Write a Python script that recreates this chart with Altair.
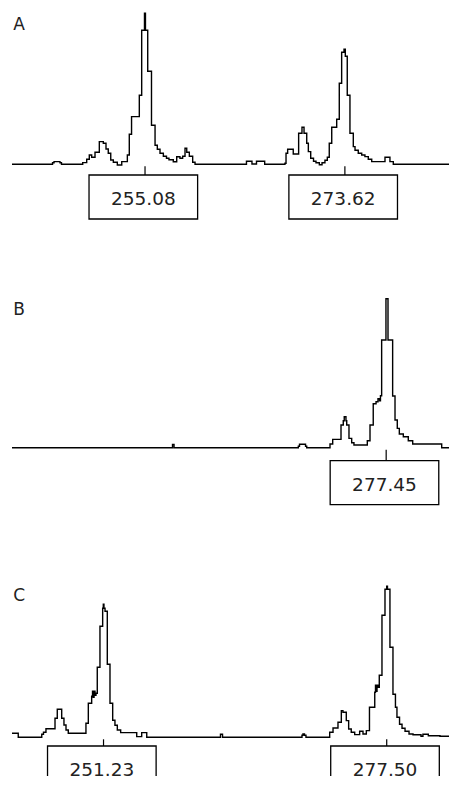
import altair as alt
import pandas as pd

# ---------------- data ----------------
PANELS = ["A", "B", "C"]

a_size = [242.74, 246.36, 246.50, 246.64, 247.05, 247.19, 247.33, 249.30, 249.67, 249.91,
          250.13, 250.44, 250.84, 251.21, 251.46, 251.67, 251.90, 252.14, 252.51, 252.92,
          253.44, 253.62, 253.83, 254.55, 254.77, 255.03, 255.12, 255.33, 255.68, 256.01,
          256.22, 256.47, 256.78, 257.07, 257.30, 257.70, 258.02, 258.32, 258.57, 258.79,
          258.95, 259.19, 259.50, 259.72,
          264.49, 265.00, 265.42, 266.18, 268.06, 268.16, 268.31, 268.83, 269.33, 269.64,
          269.83, 270.08, 270.23, 270.45, 270.71, 270.94, 271.25, 271.50, 271.77, 271.99,
          272.17, 272.40, 272.86, 273.10, 273.32, 273.54, 273.66, 273.84, 274.09, 274.40,
          274.56, 274.86, 275.18, 275.48, 275.79, 276.11, 277.34, 277.80, 278.11, 284.02]
a_signal = [0, 0, 1.5, 2.7, 2.7, 1.5, 0, 1.7, 5, 9.3,
            7, 12, 22.7, 21, 15.3, 11, 4.3, 2, -0.7, 2.7,
            9.3, 30, 47.7, 69, 134, 151, 134, 93, 39, 19,
            15, 11, 8, 6, 4.5, 2.5, 7.5, 6, 8, 16,
            12, 8, 2, 0,
            3, 0.3, 3, 0, 1, 11, 15, 10.3, 31, 37,
            31, 21, 12.7, 6, 3, 1.5, -0.5, 1.5, 4, 7,
            21, 37, 45, 81, 112, 115, 108, 69, 31, 17.7,
            14, 11, 9.3, 7.7, 5, 2.7, 7, 2.7, 0, 0]

b_size = [242.74, 257.44, 257.63, 257.77, 269.30, 269.41, 269.97, 270.08, 272.24, 272.49,
          273.26, 273.47, 273.56, 273.72, 273.79, 274.00, 274.25, 274.46, 275.70, 275.95,
          276.25, 276.51, 276.69, 276.83, 276.92, 277.03, 277.43, 277.62, 278.05, 278.27,
          278.48, 278.67, 279.04, 279.50, 279.91, 282.60, 284.02]
b_signal = [0, 0, 3.3, 0, 1.5, 3.5, 1.5, 0, 3.7, 8.3,
            22.7, 27, 31, 27, 22.7, 9.3, 5, 2.7, 7, 22.7,
            44, 46, 49, 47, 52, 107.7, 149, 107.7, 51.7, 27.7,
            19.3, 13.7, 11, 7, 3.7, 0, 0]

c_size = [242.74, 243.11, 243.32, 245.50, 245.66, 245.89, 246.73, 246.94, 247.35, 247.56,
          247.75, 247.96, 249.60, 249.82, 250.13, 250.21, 250.27, 250.35, 250.44, 250.53,
          250.65, 250.90, 251.15, 251.21, 251.27, 251.37, 251.58, 251.83, 252.08, 252.29,
          252.51, 252.82, 254.31, 254.77, 255.24, 261.90, 262.08, 262.27,
          269.50, 269.64, 269.73, 269.87, 270.01, 272.21, 272.52, 272.98, 273.29, 273.44,
          273.75, 273.97, 274.21, 274.53, 274.99, 275.30, 275.61, 275.90, 276.39, 276.46,
          276.53, 276.60, 276.69, 276.81, 277.06, 277.34, 277.50, 277.57, 277.80, 278.08,
          278.31, 278.45, 278.69, 278.92, 279.20, 279.57, 279.94, 280.68, 280.86, 281.36,
          282.44, 283.83, 283.93, 284.02]
c_signal = [4, 4, 0, 3, 5, 8.5, 19, 28, 19, 12.3,
            7.3, 4, 14, 34, 41, 46, 40, 46, 42, 44,
            70, 111, 129, 133, 129, 126, 73, 34, 17, 12,
            7.3, 4.7, 0.7, 4.7, 0, 0, 3, 0,
            0, 2, 3.3, 2, 0, 5, 9.3, 15, 26.7, 25,
            16.7, 8.3, 5, 2.7, 6, 3.3, 6.7, 30, 45, 52,
            46, 52, 50, 62, 122, 148, 151, 148, 90, 43,
            30, 20, 13, 9, 6, 3.3, 2.5, 1, 3, 1.5,
            1, 0.5, 3, 2]

peak_panel = ["A", "A", "B", "C", "C"]
peak_size = [255.08, 273.62, 277.45, 251.23, 277.50]
peak_label = ["255.08", "273.62", "277.45", "251.23", "277.50"]

traces = {"A": (a_size, a_signal), "B": (b_size, b_signal), "C": (c_size, c_signal)}

# ---------------- layout ----------------
W = 437
PX_PER_BP = 10.78
X0 = 242.74
X_DOMAIN = [X0, X0 + W / PX_PER_BP]
BP_PER_PX = 1.0 / PX_PER_BP
LAYOUT = {
    "A": dict(height=270, base=156.3, gap=10.7, letter_y=22.0),
    "B": dict(height=287, base=169.7, gap=13.0, letter_y=37.0),
    "C": dict(height=211, base=172.3, gap=8.7, letter_y=35.7),
}
BOX_H = 44
BOX_LEFT = 56.0
BOX_RIGHT = 52.6
FONT = "DejaVu Sans"
LW = 1.4

peaks = pd.DataFrame({"panel": peak_panel, "size": peak_size, "label": peak_label})


def panel(name):
    L = LAYOUT[name]
    xs = alt.Scale(domain=X_DOMAIN, nice=False, zero=False)
    ys = alt.Scale(domain=[L["base"] - L["height"], L["base"]], nice=False, zero=False)
    sizes, signal = traces[name]
    df = pd.DataFrame({"size": sizes, "signal": signal})
    line = alt.Chart(df).mark_line(
        interpolate="step-after", color="black", strokeWidth=LW, clip=True
    ).encode(
        x=alt.X("size:Q", scale=xs, axis=None),
        y=alt.Y("signal:Q", scale=ys, axis=None),
    )
    pk = peaks[peaks.panel == name]
    top = L["base"] + L["gap"]
    tick = alt.Chart(pk).mark_rule(color="black", strokeWidth=1.2).encode(
        x=alt.X("size:Q", scale=xs, axis=None),
        y=alt.value(L["base"] + 2),
        y2=alt.value(top),
    )
    box = alt.Chart(pk).transform_calculate(
        lo=f"datum.size - {BOX_LEFT * BP_PER_PX}",
        hi=f"datum.size + {BOX_RIGHT * BP_PER_PX}",
    ).mark_rect(fill="white", stroke="black", strokeWidth=1.3, clip=True).encode(
        x=alt.X("lo:Q", scale=xs, axis=None),
        x2="hi:Q",
        y=alt.value(top),
        y2=alt.value(top + BOX_H),
    )
    text = alt.Chart(pk).transform_calculate(
        mid=f"datum.size - {((BOX_LEFT - BOX_RIGHT) / 2) * BP_PER_PX}"
    ).mark_text(
        font=FONT, fontSize=18.5, align="center", baseline="alphabetic", color="#222"
    ).encode(
        x=alt.X("mid:Q", scale=xs, axis=None),
        y=alt.value(top + 30),
        text="label:N",
    )
    letter = alt.Chart(pd.DataFrame({"panel": [name]})).mark_text(
        font=FONT, fontSize=17, align="left", baseline="alphabetic", color="#222"
    ).encode(
        x=alt.value(1.3),
        y=alt.value(L["letter_y"]),
        text="panel:N",
    )
    return alt.layer(line, tick, box, text, letter).properties(width=W, height=L["height"])


chart = alt.vconcat(*[panel(p) for p in PANELS], spacing=0).properties(
    padding={"left": 4, "top": 0, "right": 0, "bottom": 0}
).configure_view(stroke=None)

chart.save("out.html", embed_options={"renderer": "svg", "actions": False})
